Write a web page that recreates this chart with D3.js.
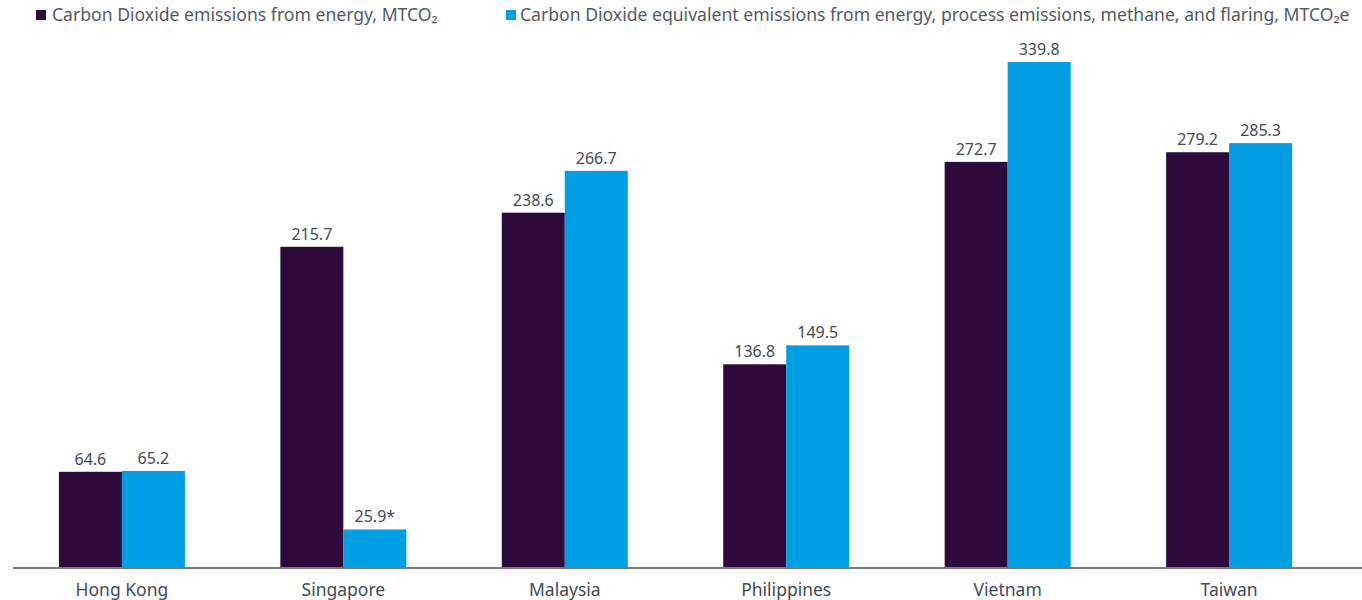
<!DOCTYPE html>
<html><head><meta charset="utf-8">
<script src="https://cdn.jsdelivr.net/npm/d3@7"></script>
<style>
body{margin:0;background:#fff;}
text{font-family:"Noto Sans",sans-serif;}
</style></head>
<body><svg id="c" width="1362" height="600"></svg>
<script>
const categories = ["Hong Kong","Singapore","Malaysia","Philippines","Vietnam","Taiwan"];
const co2Energy = [64.6, 215.7, 238.6, 136.8, 272.7, 279.2];
const co2eTotal = [65.2, 25.9, 266.7, 149.5, 339.8, 285.3];
const co2eLabels = ["65.2","25.9*","266.7","149.5","339.8","285.3"];
const seriesNames = ["Carbon Dioxide emissions from energy, MTCO\u2082",
  "Carbon Dioxide equivalent emissions from energy, process emissions, methane, and flaring, MTCO\u2082e"];
const colors = ["#2c0b3c","#009fe3"];

const svg = d3.select("#c");
const baseY = 568;
const x = d3.scaleBand().domain(categories).range([11.3, 1339.7]).paddingInner(0.431).paddingOuter(0.215);
const x1 = d3.scaleBand().domain([0,1]).range([0, x.bandwidth()]);
const y = d3.scaleLinear().domain([0, 339.8]).range([baseY, 62]);

const series = [
  {vals: co2Energy, labels: co2Energy.map(v=>v.toFixed(1))},
  {vals: co2eTotal, labels: co2eLabels}
];
series.forEach((s, si) => {
  const g = svg.append("g");
  g.selectAll("rect").data(categories).join("rect")
    .attr("x", (c)=> x(c) + x1(si))
    .attr("y", (c,i)=> y(s.vals[i]))
    .attr("width", x1.bandwidth())
    .attr("height", (c,i)=> baseY - y(s.vals[i]))
    .attr("fill", colors[si]);
  g.selectAll("text").data(categories).join("text")
    .attr("x", (c)=> x(c) + x1(si) + x1.bandwidth()/2)
    .attr("y", (c,i)=> y(s.vals[i]) - 7)
    .attr("text-anchor","middle")
    .attr("font-size", 16)
    .attr("fill", "#444a55")
    .text((c,i)=> s.labels[i]);
});

// axis
const axis = d3.axisBottom(x).tickSize(0).tickPadding(16);
const ag = svg.append("g").attr("transform", `translate(0,${baseY})`).call(axis);
ag.select(".domain").remove();
ag.selectAll("text").attr("font-size", 17.5).attr("fill", "#444a55").attr("font-family", "Noto Sans");
svg.append("line").attr("x1", 13).attr("x2", 1362).attr("y1", baseY).attr("y2", baseY)
  .attr("stroke", "#7a7a7a").attr("stroke-width", 2);

// legend
const legX = [36, 506];
seriesNames.forEach((n, i) => {
  svg.append("rect").attr("x", legX[i]).attr("y", 10).attr("width", 10).attr("height", 10).attr("fill", colors[i]);
  svg.append("text").attr("x", i === 0 ? 52 : legX[i] + 14).attr("y", 21).attr("font-size", 17.6).attr("fill", "#555a62").text(n);
});
</script></body></html>
